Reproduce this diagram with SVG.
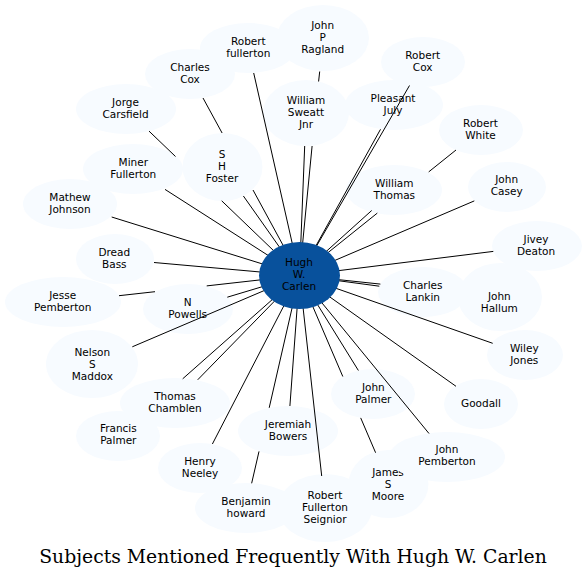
<svg xmlns="http://www.w3.org/2000/svg" width="586" height="577" viewBox="0 0 586 577">
<style>
.n ellipse{fill:#f7fbff}
#hugh ellipse{fill:#08519c}
text{font-family:"DejaVu Sans","Liberation Sans",sans-serif;font-size:10.5px;text-anchor:middle;fill:#000}
#edges line{stroke:#000;stroke-width:1}
.title{font-family:"DejaVu Serif","Liberation Serif",serif;font-size:18.8px}
</style>
<rect width="586" height="577" fill="#fff"/>
<g id="nodes">
<g id="ragland" class="n"><ellipse cx="323" cy="38" rx="46" ry="33"/><text><tspan x="322.7" y="28.5">John</tspan><tspan x="322.7" y="40.5">P</tspan><tspan x="322.7" y="52.5">Ragland</tspan></text></g>
<g id="robert-fullerton" class="n"><ellipse cx="248" cy="48" rx="48" ry="25"/><text><tspan x="248.3" y="45.1">Robert</tspan><tspan x="248.3" y="57.1">fullerton</tspan></text></g>
<g id="charles-cox" class="n"><ellipse cx="190" cy="74" rx="45" ry="25"/><text><tspan x="190" y="71.1">Charles</tspan><tspan x="190" y="83.1">Cox</tspan></text></g>
<g id="jorge-carsfield" class="n"><ellipse cx="126" cy="109" rx="50" ry="25"/><text><tspan x="125.5" y="106.1">Jorge</tspan><tspan x="125.5" y="118.1">Carsfield</tspan></text></g>
<g id="miner-fullerton" class="n"><ellipse cx="133" cy="169" rx="50" ry="25"/><text><tspan x="133.3" y="166.1">Miner</tspan><tspan x="133.3" y="178.1">Fullerton</tspan></text></g>
<g id="sh-foster" class="n"><ellipse cx="222.5" cy="167" rx="40" ry="34"/><text><tspan x="222" y="157.8">S</tspan><tspan x="222" y="169.8">H</tspan><tspan x="222" y="181.8">Foster</tspan></text></g>
<g id="william-sweatt" class="n"><ellipse cx="306" cy="113" rx="43" ry="33"/><text><tspan x="306" y="103.8">William</tspan><tspan x="306" y="115.8">Sweatt</tspan><tspan x="306" y="127.8">Jnr</tspan></text></g>
<g id="robert-cox" class="n"><ellipse cx="423" cy="62" rx="42" ry="25"/><text><tspan x="422.7" y="59.1">Robert</tspan><tspan x="422.7" y="71.1">Cox</tspan></text></g>
<g id="pleasant-july" class="n"><ellipse cx="394" cy="105" rx="49" ry="25"/><text><tspan x="393" y="101.8">Pleasant</tspan><tspan x="393" y="113.8">July</tspan></text></g>
<g id="robert-white" class="n"><ellipse cx="481" cy="130" rx="42" ry="25"/><text><tspan x="480.5" y="126.8">Robert</tspan><tspan x="480.5" y="138.8">White</tspan></text></g>
<g id="william-thomas" class="n"><ellipse cx="394" cy="190" rx="48" ry="25"/><text><tspan x="394.3" y="186.8">William</tspan><tspan x="394.3" y="198.8">Thomas</tspan></text></g>
<g id="john-casey" class="n"><ellipse cx="507" cy="187" rx="39" ry="25"/><text><tspan x="506.7" y="183.1">John</tspan><tspan x="506.7" y="195.1">Casey</tspan></text></g>
<g id="jivey-deaton" class="n"><ellipse cx="537" cy="246" rx="45" ry="25"/><text><tspan x="536" y="242.5">Jivey</tspan><tspan x="536" y="254.5">Deaton</tspan></text></g>
<g id="john-hallum" class="n"><ellipse cx="500" cy="297" rx="42" ry="34"/><text><tspan x="499.3" y="299.5">John</tspan><tspan x="499.3" y="311.5">Hallum</tspan></text></g>
<g id="charles-lankin" class="n"><ellipse cx="423" cy="292" rx="45" ry="25"/><text><tspan x="422.7" y="289.1">Charles</tspan><tspan x="422.7" y="301.1">Lankin</tspan></text></g>
<g id="wiley-jones" class="n"><ellipse cx="525" cy="355" rx="38" ry="25"/><text><tspan x="524.3" y="351.5">Wiley</tspan><tspan x="524.3" y="363.5">Jones</tspan></text></g>
<g id="goodall" class="n"><ellipse cx="481" cy="404" rx="37" ry="25"/><text x="481" y="406.5">Goodall</text></g>
<g id="james-moore" class="n"><ellipse cx="388.5" cy="484" rx="40" ry="34"/><text><tspan x="388" y="475.5">James</tspan><tspan x="388" y="487.5">S</tspan><tspan x="388" y="499.5">Moore</tspan></text></g>
<g id="john-pemberton" class="n"><ellipse cx="447" cy="457" rx="58" ry="25"/><text><tspan x="447" y="453.1">John</tspan><tspan x="447" y="465.1">Pemberton</tspan></text></g>
<g id="john-palmer" class="n"><ellipse cx="373" cy="394" rx="42" ry="25"/><text><tspan x="373.3" y="390.5">John</tspan><tspan x="373.3" y="402.5">Palmer</tspan></text></g>
<g id="robert-fullerton-seignior" class="n"><ellipse cx="325" cy="508" rx="47" ry="34"/><text><tspan x="325" y="498.8">Robert</tspan><tspan x="325" y="510.8">Fullerton</tspan><tspan x="325" y="522.8">Seignior</tspan></text></g>
<g id="jeremiah-bowers" class="n"><ellipse cx="288" cy="431" rx="50" ry="25"/><text><tspan x="288" y="427.8">Jeremiah</tspan><tspan x="288" y="439.8">Bowers</tspan></text></g>
<g id="benjamin-howard" class="n"><ellipse cx="246" cy="508" rx="51" ry="25"/><text><tspan x="246" y="504.8">Benjamin</tspan><tspan x="246" y="516.8">howard</tspan></text></g>
<g id="henry-neeley" class="n"><ellipse cx="200" cy="468" rx="42" ry="25"/><text><tspan x="200" y="464.5">Henry</tspan><tspan x="200" y="476.5">Neeley</tspan></text></g>
<g id="francis-palmer" class="n"><ellipse cx="118" cy="436" rx="42" ry="25"/><text><tspan x="118.3" y="432.1">Francis</tspan><tspan x="118.3" y="444.1">Palmer</tspan></text></g>
<g id="thomas-chamblen" class="n"><ellipse cx="175" cy="403" rx="55" ry="25"/><text><tspan x="175" y="399.8">Thomas</tspan><tspan x="175" y="411.8">Chamblen</tspan></text></g>
<g id="nelson-maddox" class="n"><ellipse cx="92" cy="364" rx="46" ry="34"/><text><tspan x="92.3" y="355.5">Nelson</tspan><tspan x="92.3" y="367.5">S</tspan><tspan x="92.3" y="379.5">Maddox</tspan></text></g>
<g id="n-powells" class="n"><ellipse cx="188" cy="309" rx="45" ry="25"/><text><tspan x="187.7" y="305.5">N</tspan><tspan x="187.7" y="317.5">Powells</tspan></text></g>
<g id="jesse-pemberton" class="n"><ellipse cx="63" cy="302" rx="58" ry="25"/><text><tspan x="62.7" y="298.8">Jesse</tspan><tspan x="62.7" y="310.8">Pemberton</tspan></text></g>
<g id="dread-bass" class="n"><ellipse cx="115" cy="259" rx="39" ry="25"/><text><tspan x="114.3" y="255.8">Dread</tspan><tspan x="114.3" y="267.8">Bass</tspan></text></g>
<g id="mathew-johnson" class="n"><ellipse cx="70" cy="204" rx="47" ry="25"/><text><tspan x="70" y="200.5">Mathew</tspan><tspan x="70" y="212.5">Johnson</tspan></text></g>
</g>
<g id="edges">
<line x1="299.5" y1="275.5" x2="312.1" y2="146"/><line x1="318.6" y1="81.5" x2="319.7" y2="71.5"/>
<line x1="299.5" y1="275.5" x2="253.7" y2="73"/>
<line x1="299.5" y1="275.5" x2="253" y2="190"/><line x1="222.1" y1="133" x2="203" y2="98"/>
<line x1="299.5" y1="275.5" x2="221.7" y2="200.8"/><line x1="175.5" y1="156.5" x2="149" y2="131.1"/>
<line x1="299.5" y1="275.5" x2="243.4" y2="196"/>
<line x1="299.5" y1="275.5" x2="165" y2="189.4"/>
<line x1="299.5" y1="275.5" x2="304.7" y2="146"/>
<line x1="299.5" y1="275.5" x2="409.5" y2="85.5"/>
<line x1="299.5" y1="275.5" x2="380.5" y2="129.3"/>
<line x1="299.5" y1="275.5" x2="377.3" y2="213.1"/><line x1="428.7" y1="171.9" x2="456" y2="150"/>
<line x1="299.5" y1="275.5" x2="371.7" y2="210.5"/>
<line x1="299.5" y1="275.5" x2="474.3" y2="200.9"/>
<line x1="299.5" y1="275.5" x2="493.3" y2="251.4"/>
<line x1="299.5" y1="275.5" x2="379.3" y2="286.2"/>
<line x1="299.5" y1="275.5" x2="380.4" y2="284.1"/>
<line x1="299.5" y1="275.5" x2="492.7" y2="343.3"/>
<line x1="299.5" y1="275.5" x2="456" y2="386.3"/>
<line x1="299.5" y1="275.5" x2="429" y2="433.5"/>
<line x1="299.5" y1="275.5" x2="342.8" y2="376.5"/><line x1="360.7" y1="417.9" x2="375.6" y2="452.7"/>
<line x1="299.5" y1="275.5" x2="358.4" y2="370.5"/>
<line x1="299.5" y1="275.5" x2="321.7" y2="476"/>
<line x1="299.5" y1="275.5" x2="289.9" y2="406"/>
<line x1="299.5" y1="275.5" x2="269.2" y2="407.8"/><line x1="259" y1="451.4" x2="251.65" y2="483.3"/>
<line x1="299.5" y1="275.5" x2="212.4" y2="444"/>
<line x1="299.5" y1="275.5" x2="182.7" y2="378.8"/>
<line x1="299.5" y1="275.5" x2="197.7" y2="379.8"/>
<line x1="299.5" y1="275.5" x2="132.3" y2="346.8"/>
<line x1="299.5" y1="275.5" x2="227.3" y2="297.2"/>
<line x1="299.5" y1="275.5" x2="206.7" y2="285.9"/><line x1="155" y1="291.7" x2="119" y2="295.7"/>
<line x1="299.5" y1="275.5" x2="154" y2="262.5"/>
<line x1="299.5" y1="275.5" x2="111.7" y2="217"/>
</g>
<g id="hugh"><ellipse cx="299.5" cy="275.5" rx="40.5" ry="33.5"/><text><tspan x="299" y="265.5">Hugh</tspan><tspan x="299" y="277.5">W.</tspan><tspan x="299" y="289.5">Carlen</tspan></text></g>
<text class="title" x="293" y="562.5">Subjects Mentioned Frequently With Hugh W. Carlen</text>
</svg>
